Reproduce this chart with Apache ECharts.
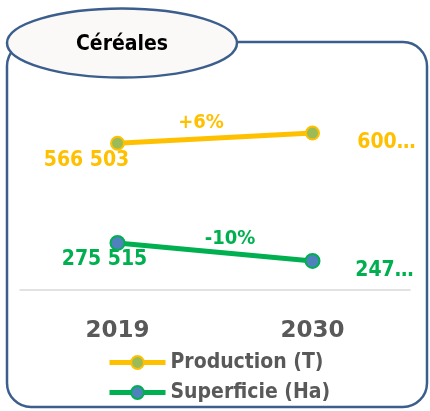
<!DOCTYPE html>
<html>
<head>
<meta charset="utf-8">
<script src="https://cdn.jsdelivr.net/npm/echarts@6/dist/echarts.min.js"></script>
<style>
  html, body { margin: 0; padding: 0; background: #fff; }
  #main { width: 430px; height: 411px; }
</style>
</head>
<body>
<div id="main"></div>
<script>
// data
var years = ['2019', '2030'];
var production = [566503, 600500];   // T
var superficie = [275515, 247960];   // Ha
var seriesNames = ['Production (T)', 'Superficie (Ha)'];
var title = 'Céréales';

var FONT = "'DejaVu Sans Condensed', 'DejaVu Sans', sans-serif";
var YELLOW = '#FFC000', GREEN = '#00B050', BLUE_FRAME = '#3B5E8C';

function pct(arr) {
    var p = Math.round((arr[1] - arr[0]) / arr[0] * 100);
    return (p > 0 ? '+' : '') + p + '%';
}

function valueLabel(color, offset, truncate) {
    var l = {
        show: true,
        position: 'inside',
        offset: offset,
        color: color,
        fontFamily: FONT,
        fontWeight: 'bold',
        fontSize: 21,
        formatter: function (p) {
            return String(p.value).replace(/\B(?=(\d{3})+(?!\d))/g, ' ');
        }
    };
    if (truncate) {
        l.width = 62;
        l.overflow = 'truncate';
        l.ellipsis = '…';
    }
    return l;
}

var chart = echarts.init(document.getElementById('main'));

var option = {
    animation: false,
    grid: { left: 20, right: 20, top: 60, bottom: 121 },
    xAxis: {
        type: 'category',
        data: years,
        boundaryGap: true,
        axisLine: { lineStyle: { color: '#D9D9D9', width: 1.5 } },
        axisTick: { show: false },
        axisLabel: {
            margin: 30,
            color: '#595959',
            fontFamily: "'DejaVu Sans', sans-serif",
            fontWeight: 'bold',
            fontSize: 23
        }
    },
    yAxis: [
        { type: 'value', show: false, min: 75000, max: 845000, splitLine: { show: false } },
        { type: 'value', show: false, min: 203500, max: 555500, splitLine: { show: false } }
    ],
    legend: {
        orient: 'vertical',
        left: 107,
        top: 352,
        height: 80,
        padding: 0,
        itemWidth: 56,
        itemHeight: 16,
        itemGap: 9,
        lineStyle: { width: 5 },
        textStyle: {
            color: '#595959',
            fontFamily: FONT,
            fontWeight: 'bold',
            fontSize: 21,
            lineHeight: 21
        },
        data: seriesNames
    },
    series: [
        {
            name: seriesNames[0],
            type: 'line',
            yAxisIndex: 0,
            symbol: 'circle',
            symbolSize: 13,
            lineStyle: { color: YELLOW, width: 5 },
            itemStyle: { color: '#9BBB59', borderColor: YELLOW, borderWidth: 2 },
            data: [
                { value: production[0], label: valueLabel(YELLOW, [-31, 17]) },
                { value: production[1], label: valueLabel(YELLOW, [74, 10], true) }
            ]
        },
        {
            name: seriesNames[1],
            type: 'line',
            yAxisIndex: 1,
            symbol: 'circle',
            symbolSize: 14,
            lineStyle: { color: GREEN, width: 5 },
            itemStyle: { color: '#4F81BD', borderColor: GREEN, borderWidth: 2 },
            data: [
                { value: superficie[0], label: valueLabel(GREEN, [-13, 17]) },
                { value: superficie[1], label: valueLabel(GREEN, [72, 10], true) }
            ]
        }
    ],
    graphic: [
        {
            type: 'rect', z: -10,
            shape: { x: 7, y: 42, width: 420, height: 365, r: 24 },
            style: { fill: 'none', stroke: BLUE_FRAME, lineWidth: 2.5 }
        },
        {
            type: 'ellipse', z: -5,
            shape: { cx: 122, cy: 43, rx: 115, ry: 34.5 },
            style: { fill: '#FAF9F8', stroke: BLUE_FRAME, lineWidth: 2.5 }
        },
        {
            type: 'text', z: -4, x: 122, y: 45,
            style: {
                text: title, fill: '#000', align: 'center', verticalAlign: 'middle',
                font: "bold 21px 'DejaVu Sans Condensed', 'DejaVu Sans', sans-serif"
            }
        },
        {
            type: 'text', x: 201, y: 123,
            style: {
                text: pct(production), fill: YELLOW, align: 'center', verticalAlign: 'middle',
                font: "bold 20px 'DejaVu Sans Condensed', 'DejaVu Sans', sans-serif"
            }
        },
        {
            type: 'text', x: 230, y: 239,
            style: {
                text: pct(superficie), fill: GREEN, align: 'center', verticalAlign: 'middle',
                font: "bold 20px 'DejaVu Sans Condensed', 'DejaVu Sans', sans-serif"
            }
        }
    ]
};

chart.setOption(option);
</script>
</body>
</html>
